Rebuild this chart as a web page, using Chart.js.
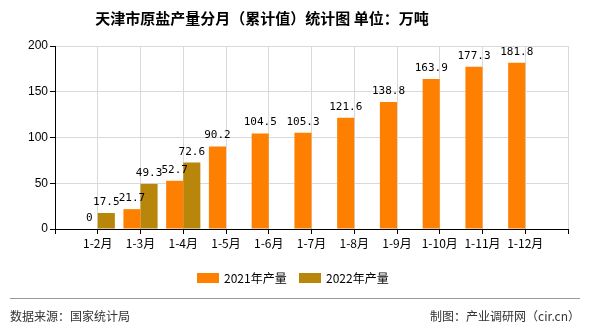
<!DOCTYPE html>
<html lang="zh">

<head>
    <meta charset="UTF-8">
    <script src="https://cdn.jsdelivr.net/npm/chart.js@4"></script>
    <title>天津市原盐产量</title>
    <style>
        body { margin: 0; background: #fff; }
        #wrap { width: 590px; height: 330px; position: relative; }
    </style>
</head>

<body>
    <div id="wrap"><canvas id="myChart" width="590" height="330"></canvas></div>
</body>

<script type='text/javascript'>

    const months = ['1-2月', '1-3月', '1-4月', '1-5月', '1-6月', '1-7月', '1-8月', '1-9月', '1-10月', '1-11月', '1-12月']
    const output2021 = [0, 21.7, 52.7, 90.2, 104.5, 105.3, 121.6, 138.8, 163.9, 177.3, 181.8]
    const output2022 = [17.5, 49.3, 72.6, null, null, null, null, null, null, null, null]
    const yTicks = [0, 50, 100, 150, 200]

    const cjk = '"Noto Sans CJK SC", "Noto Sans", sans-serif'

    // empty slot at both ends so the bars sit on the grid lines
    const labels = [''].concat(months, [''])
    const pad = (arr) => [null].concat(arr, [null])

    const extras = {
        id: 'extras',
        afterDatasetsDraw(chart) {
            const ctx = chart.ctx
            ctx.save()
            // value labels
            ctx.font = '11px "DejaVu Sans Mono", monospace'
            ctx.fillStyle = '#000'
            ctx.textAlign = 'center'
            ctx.textBaseline = 'alphabetic'
            chart.data.datasets.forEach((ds, i) => {
                chart.getDatasetMeta(i).data.forEach((bar, j) => {
                    const v = ds.data[j]
                    if (v === null || v === undefined) return
                    ctx.fillText(v.toFixed(v === 0 ? 0 : 1), bar.x, bar.y - 8)
                })
            })
            ctx.restore()
        },
        afterDraw(chart) {
            const ctx = chart.ctx
            ctx.save()
            // title
            ctx.font = 'bold 15px ' + cjk
            ctx.fillStyle = '#000'
            ctx.textAlign = 'center'
            ctx.textBaseline = 'middle'
            ctx.fillText('天津市原盐产量分月（累计值）统计图 单位：万吨', 262, 18)

            // legend
            ctx.font = '12px ' + cjk
            ctx.textAlign = 'left'
            chart.data.datasets.forEach((ds, i) => {
                const x = 197 + i * 102
                ctx.fillStyle = ds.backgroundColor
                ctx.fillRect(x, 273, 22, 10)
                ctx.fillStyle = '#000'
                ctx.fillText(ds.label, x + 27, 278)
            })

            // footer
            ctx.strokeStyle = '#999'
            ctx.lineWidth = 1
            ctx.beginPath()
            ctx.moveTo(10, 298.5)
            ctx.lineTo(580, 298.5)
            ctx.stroke()
            ctx.fillStyle = '#333'
            ctx.font = '12px ' + cjk
            ctx.fillText('数据来源：国家统计局', 10, 316)
            ctx.textAlign = 'right'
            ctx.fillText('制图：产业调研网（cir.cn）', 580, 316)
            ctx.restore()
        }
    }

    const ctx = document.getElementById('myChart').getContext('2d')
    const chart = new Chart(ctx, {
        type: 'bar',
        data: {
            labels: labels,
            datasets: [{
                label: '2021年产量',
                backgroundColor: '#FF8000',
                data: pad(output2021)
            }, {
                label: '2022年产量',
                backgroundColor: '#B8860B',
                data: pad(output2022)
            }]
        },
        plugins: [extras],
        options: {
            responsive: false,
            animation: false,
            layout: { padding: { top: 46, left: 0, right: 22, bottom: 71 } },
            plugins: {
                legend: { display: false },
                title: { display: false },
                tooltip: { enabled: false }
            },
            datasets: {
                bar: { barPercentage: 1, categoryPercentage: 0.8 }
            },
            scales: {
                x: {
                    offset: false,
                    grid: { offset: false, color: '#d9d9d9', tickColor: '#000', tickLength: 5 },
                    border: { color: '#000' },
                    ticks: {
                        autoSkip: false,
                        maxRotation: 0,
                        padding: 2,
                        color: '#000',
                        font: { family: cjk, size: 12 }
                    },
                    afterFit: (s) => { s.height = 30 }
                },
                y: {
                    min: 0,
                    max: 200,
                    afterBuildTicks: (s) => { s.ticks = yTicks.map(v => ({ value: v })) },
                    grid: { color: '#d9d9d9', tickColor: '#000', tickLength: 5 },
                    border: { color: '#000' },
                    ticks: {
                        padding: 2,
                        color: '#000',
                        font: { family: 'Arial, "Liberation Sans", sans-serif', size: 12 }
                    },
                    afterFit: (s) => { s.width = 55 }
                }
            }
        }
    })

</script>

</html>
